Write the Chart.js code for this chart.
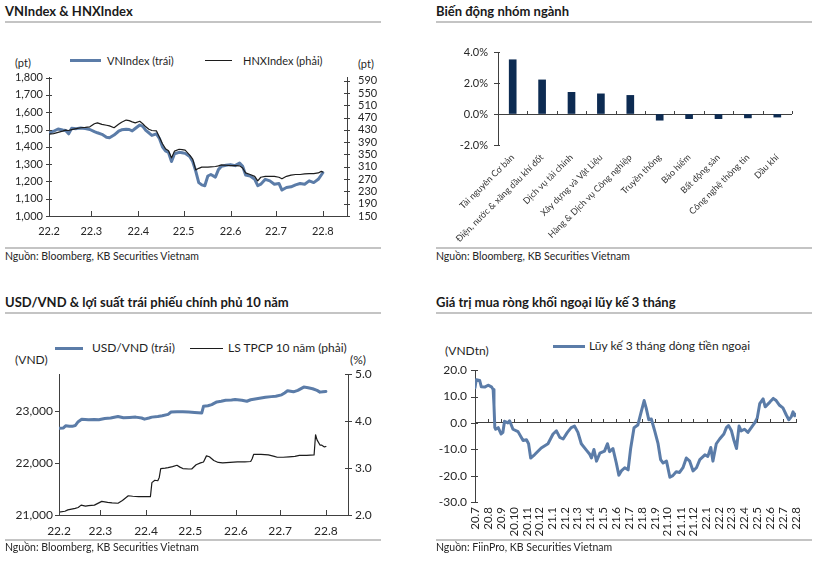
<!DOCTYPE html>
<html><head><meta charset="utf-8">
<script src="https://cdn.jsdelivr.net/npm/chart.js@4.4.1/dist/chart.umd.min.js"></script>
<style>
html,body{margin:0;padding:0;background:#fff;}
#page{position:relative;width:817px;height:561px;overflow:hidden;font-family:Lato,'Open Sans',sans-serif;color:#1f1f1f;}
.abs{position:absolute;white-space:nowrap;}
.title{font-weight:700;font-size:13px;line-height:18px;color:#1a1a1a;}
.rule{position:absolute;height:2px;background:#c4c4c4;}
.src{font-size:10.5px;line-height:13px;color:#262626;}
.lg{font-size:11px;line-height:13px;color:#1f1f1f;}
.lg12{font-size:12px;line-height:14px;color:#1f1f1f;}
.sw{position:absolute;}
canvas{position:absolute;}
</style></head>
<body>
<div id="page">
  <!-- Panel 1 -->
  <div class="abs title" style="left:5px;top:2px">VNIndex &amp; HNXIndex</div>
  <div class="rule" style="left:5px;top:21px;width:376px"></div>
  <div class="sw" style="left:70px;top:59px;width:31px;height:3px;background:#5b7ca8"></div>
  <div class="abs lg" style="left:107px;top:54px">VNIndex (trái)</div>
  <div class="sw" style="left:205px;top:60px;width:27px;height:1px;background:#1c1c1c"></div>
  <div class="abs lg" style="left:243px;top:54px">HNXIndex (phải)</div>
  <div class="abs lg" style="left:15px;top:56px">(pt)</div>
  <div class="abs lg" style="left:358px;top:57px">(pt)</div>
  <canvas id="c1" width="405" height="185" style="left:0;top:60px"></canvas>
  <div class="rule" style="left:5px;top:247px;width:376px"></div>
  <div class="abs src" style="left:5px;top:250px">Nguồn: Bloomberg, KB Securities Vietnam</div>

  <!-- Panel 2 -->
  <div class="abs title" style="left:436px;top:2px">Biến động nhóm ngành</div>
  <div class="rule" style="left:436px;top:21px;width:376px"></div>
  <canvas id="c2" width="407" height="215" style="left:410px;top:30px"></canvas>
  <div class="rule" style="left:436px;top:247px;width:376px"></div>
  <div class="abs src" style="left:436px;top:250px">Nguồn: Bloomberg, KB Securities Vietnam</div>

  <!-- Panel 3 -->
  <div class="abs title" style="left:5px;top:293px">USD/VND &amp; lợi suất trái phiếu chính phủ 10 năm</div>
  <div class="rule" style="left:5px;top:312px;width:376px"></div>
  <div class="sw" style="left:55px;top:347px;width:28px;height:3px;background:#5b7ca8"></div>
  <div class="abs lg12" style="left:92px;top:341px">USD/VND (trái)</div>
  <div class="sw" style="left:190px;top:348px;width:33px;height:1px;background:#1c1c1c"></div>
  <div class="abs lg12" style="left:228px;top:341px">LS TPCP 10 năm (phải)</div>
  <div class="abs lg12" style="left:15px;top:353px">(VND)</div>
  <div class="abs lg12" style="left:350px;top:353px">(%)</div>
  <canvas id="c3" width="405" height="180" style="left:0;top:360px"></canvas>
  <div class="rule" style="left:5px;top:539px;width:376px"></div>
  <div class="abs src" style="left:5px;top:541px">Nguồn: Bloomberg, KB Securities Vietnam</div>

  <!-- Panel 4 -->
  <div class="abs title" style="left:436px;top:293px">Giá trị mua ròng khối ngoại lũy kế 3 tháng</div>
  <div class="rule" style="left:436px;top:312px;width:376px"></div>
  <div class="sw" style="left:553px;top:345px;width:32px;height:3px;background:#5b7ca8"></div>
  <div class="abs lg12" style="left:589px;top:339px">Lũy kế 3 tháng dòng tiền ngoại</div>
  <div class="abs lg12" style="left:445px;top:344px">(VNDtn)</div>
  <canvas id="c4" width="407" height="185" style="left:410px;top:355px"></canvas>
  <div class="rule" style="left:436px;top:539px;width:376px"></div>
  <div class="abs src" style="left:436px;top:541px">Nguồn: FiinPro, KB Securities Vietnam</div>
</div>
<script>
// ---------------- DATA ----------------
// Panel 1: days since 2022-02-01
const idxMonthLabels = ['22.2','22.3','22.4','22.5','22.6','22.7','22.8'];
const idxDay = [0,3,6,9,11,13,15,18,21,24,27,30,32,35,38,40,43,46,48,51,53,55,57,60,62,64,66,68,71,73,75,77,79,81,83,86,88,90,93,95,97,99,101,103,105,107,110,112,114,117,120,123,126,128,130,133,136,138,140,143,146,149,152,154,157,160,163,166,169,172,175,178,180,181];
const vnIndex = [1479,1490,1503,1497,1494,1475,1507,1505,1509,1505,
 1500,1488,1481,1472,1455,1452,1468,1490,1498,1502,
 1500,1492,1506,1526,1518,1495,1481,1466,1475,1448,
 1400,1376,1367,1315,1360,1368,1366,1362,1344,1315,
 1260,1193,1180,1175,1231,1240,1225,1268,1287,1293,
 1297,1291,1306,1287,1237,1231,1212,1175,1184,1212,
 1203,1184,1188,1150,1165,1169,1180,1188,1184,1203,
 1193,1212,1237,1250];
const hnxIndex = [416,418,422,426,429,428,431,434,437,438,
 440,450,453,448,445,443,437,448,455,462,
 460,456,453,458,450,440,432,428,427,406,
 385,369,362,339,361,367,366,364,348,335,
 300,305,309,309,309,310,311,313,316,315,
 314,314,313,306,290,285,279,264,276,279,
 279,279,276,271,279,283,285,285,287,288,
 288,290,295,293];
const vnTicks = [1000,1100,1200,1300,1400,1500,1600,1700,1800];
const hnxTicks = [150,190,230,270,310,350,390,430,470,510,550,590];

// Panel 2
const sectorNames = ['Tài nguyên Cơ bản','Điện, nước & xăng dầu khí đốt','Dịch vụ tài chính','Xây dựng và Vật Liệu','Hàng & Dịch vụ Công nghiệp','Truyền thông','Bảo hiểm','Bất động sản','Công nghệ thông tin','Dầu khí'];
const sectorChange = [3.5,2.2,1.4,1.3,1.2,-0.4,-0.3,-0.3,-0.25,-0.2];
const sectorTicks = [-2,0,2,4];

// Panel 3: days since 2022-02-01
const usdDay = [0,3,4.5,7,9,11,13,15.4,20,24,27,31,35,40,43.7,48,52,56,58,61,63,67,70,74,76,80,84,88,92,96.8,98,101,103.6,107,110,113,117,119.4,124,127.4,130,133,137,140,144,147,151,153,155,159,162,166,169,172,175,177,179,181];
const usdVnd = [22664,22670,22710,22700,22700,22715,22790,22838,22825,22830,
 22825,22850,22860,22890,22864,22870,22877,22860,22838,22860,
 22877,22890,22903,22930,22975,22981,22981,22975,22967,22955,
 23084,23095,23117,23168,23180,23200,23205,23214,23200,23181,
 23210,23226,23245,23259,23270,23278,23304,23340,23382,23362,
 23390,23453,23440,23421,23390,23356,23365,23369];
const bondDay = [0,4,6,11,13,15,18,20,24,29,33,36,40,43,47,50,54,58,62,63,65,67,68,69,72,74,77,80,82,84,88,90,93,96,98,100,102,105,108,111,116,121,126,130,131,132,137,142,146,148,152,156,160,163,168,173,174,175,177,178,180,181];
const bondYield = [2.06,2.08,2.11,2.14,2.16,2.21,2.19,2.20,2.21,2.29,
 2.27,2.26,2.25,2.31,2.41,2.40,2.39,2.39,2.39,2.69,
 2.74,2.73,2.80,2.99,3.00,3.01,3.03,3.06,3.02,2.99,
 2.98,2.98,3.07,3.11,3.13,3.26,3.24,3.16,3.12,3.11,
 3.12,3.13,3.13,3.14,3.20,3.29,3.29,3.28,3.25,3.23,
 3.23,3.24,3.25,3.27,3.27,3.28,3.71,3.60,3.49,3.49,
 3.45,3.46];
const usdTicks = [21000,22000,23000];
const bondTicks = [2,3,4,5];

// Panel 4: days since 2020-07-01
const flowMonthLabels = ['20.7','20.8','20.9','20.10','20.11','20.12','21.1','21.2','21.3','21.4','21.5','21.6','21.7','21.8','21.9','21.10','21.11','21.12','22.1','22.2','22.3','22.4','22.5','22.6','22.7','22.8'];
const flowDay = [0,3,11,15,23,31,39,43,45,47,49,55,62,66,70,78,82,90,102,114,122,127,132,141,157,173,185,193,201,209,219,228,236,244,252,264,272,276,282,288,296,307,314,319,327,335,341,347,355,363,369,377,386,394,401,406,412,418,426,434,440,446,454,462,469,477,485,493,501,509,517,525,533,545,552,559,564,572,580,590,596,601,608,614,620,626,631,639,647,655,663,669,675,683,688,699,707,714,722,730,738,744,750,754,758,760];
const flowValue = [13.3,16.4,16.1,13.7,13.6,14.3,13.7,12.7,6.7,-1.8,
 -2.4,-1.8,-4.2,-3.6,0.6,0.0,0.8,-2.4,-3.3,-6.7,
 -6.4,-7.9,-13.3,-12.1,-9.5,-7.9,-4.2,-3.0,-5.5,-6.1,
 -3.6,-1.8,-1.2,-3.6,-7.9,-10.3,-11.9,-13.3,-10.1,-14.5,
 -11.5,-10.7,-7.9,-10.9,-9.7,-15.2,-19.8,-18.2,-17.0,-17.8,
 -9.7,-1.8,-0.8,4.2,8.5,5.5,1.2,1.5,-3.0,-7.9,
 -13.9,-15.2,-14.5,-20.6,-20.0,-18.5,-18.8,-17.0,-13.3,-14.5,
 -18.2,-17.0,-13.9,-12.1,-12.7,-9.3,-14.5,-7.9,-6.1,-4.2,
 -1.8,-1.0,-3.0,-6.7,-9.7,-1.2,-3.0,-2.4,-3.6,-1.8,
 0.0,1.8,7.3,9.1,6.1,7.9,9.3,8.5,6.7,5.7,
 3.0,1.2,2.4,4.2,2.7,3.3];
const flowTicks = [-30,-20,-10,0,10,20];

// ---------------- HELPERS ----------------
const BLUE = '#5b7ca8', BLACK = '#1c1c1c', NAVY = '#0d2b52', AXIS = '#404040', TXT = '#262626';
const DAY = 86400000;
function monthDay(label, y0, m0){ const p = label.split('.').map(Number); return (Date.UTC(2000+p[0], p[1]-1, 1) - Date.UTC(y0, m0-1, 1)) / DAY; }
const idxMonthDays = idxMonthLabels.map(l => monthDay(l, 2022, 2));
const flowMonthDays = flowMonthLabels.map(l => monthDay(l, 2020, 7));
function labeler(days, labels){ return v => { const i = days.indexOf(v); return i >= 0 ? labels[i] : ''; }; }
function pts(xs, ys){ return xs.map((x, i) => ({x: x, y: ys[i]})); }
function setTicks(arr){ return s => { s.ticks = arr.map(v => ({value: v})); }; }
function fixW(w){ return s => { s.width = w; }; }
function fixH(h){ return s => { s.height = h; }; }
const zeroOnly = c => (c.tick && c.tick.value === 0) ? AXIS : 'rgba(0,0,0,0)';

Chart.defaults.font.family = "Lato, 'Open Sans', sans-serif";
Chart.defaults.color = TXT;

function makeTickMarks(marks) {
  return {
    id: 'tickMarks',
    afterDraw(chart) {
      const ctx = chart.ctx, a = chart.chartArea;
      ctx.save();
      ctx.lineWidth = 1;
      ctx.strokeStyle = AXIS;
      marks.forEach(m => {
        const s = chart.scales[m.scale];
        const vals = m.values ? m.values : s.ticks.map(t => t.value);
        let base;
        if (m.at === 'left') base = a.left;
        else if (m.at === 'right') base = a.right;
        else if (m.at === 'bottom') base = a.bottom;
        else base = chart.scales[m.at.scale].getPixelForValue(m.at.value);
        base = Math.round(base);
        ctx.beginPath();
        vals.forEach(v => {
          const p = Math.round(s.getPixelForValue(v)) + 0.5;
          if (s.isHorizontal()) { ctx.moveTo(p, base - m.a); ctx.lineTo(p, base + m.b); }
          else { ctx.moveTo(base - m.a, p); ctx.lineTo(base + m.b, p); }
        });
        ctx.stroke();
      });
      ctx.restore();
    }
  };
}

const common = {
  responsive: false, animation: false, devicePixelRatio: 1,
  elements: { point: { radius: 0 }, line: { tension: 0, borderJoinStyle: 'round', borderCapStyle: 'round' } },
};
const noPlug = { legend: { display: false }, tooltip: { enabled: false } };

// ---------------- PANEL 1 ----------------
new Chart(document.getElementById('c1'), {
  type: 'line',
  data: { datasets: [
    { label: 'HNXIndex (phải)', data: pts(idxDay, hnxIndex), yAxisID: 'y1', borderColor: BLACK, borderWidth: 1.2, order: 0 },
    { label: 'VNIndex (trái)', data: pts(idxDay, vnIndex), yAxisID: 'y', borderColor: BLUE, borderWidth: 3, order: 1 }
  ]},
  options: Object.assign({}, common, {
    layout: { padding: { top: 14, left: 0, right: 0, bottom: 0 } },
    plugins: noPlug,
    scales: {
      x: { type: 'linear', min: 0, max: 197, afterBuildTicks: setTicks(idxMonthDays), afterFit: fixH(29),
           grid: { display: false, drawTicks: false }, border: { color: AXIS },
           ticks: { padding: 9, maxRotation: 0, autoSkip: false, callback: labeler(idxMonthDays, idxMonthLabels), font: { size: 11 } } },
      y: { position: 'left', min: 1000, max: 1800, afterBuildTicks: setTicks(vnTicks), afterFit: fixW(49),
           grid: { display: false, drawTicks: false }, border: { color: AXIS },
           ticks: { padding: 6, autoSkip: false, callback: v => v.toLocaleString('en-US'), font: { size: 11 } } },
      y1: { position: 'right', min: 150, max: 600, afterBuildTicks: setTicks(hnxTicks), afterFit: fixW(58),
           grid: { display: false, drawTicks: false }, border: { color: AXIS },
           ticks: { padding: 11, autoSkip: false, callback: v => String(v), font: { size: 11 } } }
    }
  }),
  plugins: [makeTickMarks([
    { scale: 'y', at: 'left', a: 3, b: 3 },
    { scale: 'y1', at: 'right', a: 3, b: 3 },
    { scale: 'x', at: 'bottom', a: 5, b: 0 }
  ])]
});

// ---------------- PANEL 2 ----------------
new Chart(document.getElementById('c2'), {
  type: 'bar',
  data: { labels: sectorNames, datasets: [{ data: sectorChange, backgroundColor: NAVY, barThickness: 7 }] },
  options: Object.assign({}, common, {
    layout: { padding: { top: 22, left: 0, right: 25, bottom: 0 } },
    plugins: noPlug,
    scales: {
      x: { afterFit: fixH(100), grid: { display: false, drawTicks: false }, border: { display: false },
           ticks: { minRotation: 45, maxRotation: 45, autoSkip: false, padding: 7, font: { size: 9 }, color: '#333' } },
      y: { min: -2, max: 4, afterBuildTicks: setTicks(sectorTicks), afterFit: fixW(88),
           grid: { drawTicks: false, color: zeroOnly }, border: { color: AXIS },
           ticks: { padding: 10, autoSkip: false, callback: v => v.toFixed(1) + '%', font: { size: 11 } } }
    }
  }),
  plugins: [makeTickMarks([
    { scale: 'y', at: 'left', a: 4, b: 2 },
    { scale: 'x', at: { scale: 'y', value: 0 }, a: 3, b: 0, values: sectorNames.map((n, i) => i + 0.5) }
  ])]
});

// ---------------- PANEL 3 ----------------
new Chart(document.getElementById('c3'), {
  type: 'line',
  data: { datasets: [
    { label: 'LS TPCP 10 năm (phải)', data: pts(bondDay, bondYield), yAxisID: 'y1', borderColor: BLACK, borderWidth: 1.2, order: 0 },
    { label: 'USD/VND (trái)', data: pts(usdDay, usdVnd), yAxisID: 'y', borderColor: BLUE, borderWidth: 3, order: 1 }
  ]},
  options: Object.assign({}, common, {
    layout: { padding: { top: 14, left: 0, right: 0, bottom: 0 } },
    plugins: noPlug,
    scales: {
      x: { type: 'linear', min: 0, max: 196, afterBuildTicks: setTicks(idxMonthDays), afterFit: fixH(25),
           grid: { display: false, drawTicks: false }, border: { color: AXIS },
           ticks: { padding: 9, maxRotation: 0, autoSkip: false, callback: labeler(idxMonthDays, idxMonthLabels), font: { size: 12 } } },
      y: { position: 'left', min: 21000, max: 23700, afterBuildTicks: setTicks(usdTicks), afterFit: fixW(59),
           grid: { display: false, drawTicks: false }, border: { color: AXIS },
           ticks: { padding: 6, autoSkip: false, callback: v => v.toLocaleString('en-US'), font: { size: 12 } } },
      y1: { position: 'right', min: 2, max: 5, afterBuildTicks: setTicks(bondTicks), afterFit: fixW(57),
           grid: { display: false, drawTicks: false }, border: { color: AXIS },
           ticks: { padding: 7, autoSkip: false, callback: v => v.toFixed(1), font: { size: 12 } } }
    }
  }),
  plugins: [makeTickMarks([
    { scale: 'y', at: 'left', a: 4, b: 0 },
    { scale: 'y1', at: 'right', a: 3, b: 4 },
    { scale: 'x', at: 'bottom', a: 5, b: 0 }
  ])]
});

// ---------------- PANEL 4 ----------------
new Chart(document.getElementById('c4'), {
  type: 'line',
  data: { datasets: [
    { label: 'Lũy kế 3 tháng dòng tiền ngoại', data: pts(flowDay, flowValue), borderColor: BLUE, borderWidth: 3 }
  ]},
  options: Object.assign({}, common, {
    layout: { padding: { top: 10, left: 0, right: 21, bottom: 0 } },
    plugins: noPlug,
    scales: {
      x: { type: 'linear', min: 0, max: 761, afterBuildTicks: setTicks(flowMonthDays), afterFit: fixH(38),
           grid: { display: false, drawTicks: false }, border: { display: false },
           ticks: { padding: 5, minRotation: 90, maxRotation: 90, autoSkip: false, callback: labeler(flowMonthDays, flowMonthLabels), font: { size: 11.5 } } },
      y: { min: -30, max: 20, afterBuildTicks: setTicks(flowTicks), afterFit: fixW(65),
           grid: { drawTicks: false, color: zeroOnly }, border: { color: AXIS },
           ticks: { padding: 8, autoSkip: false, callback: v => v.toFixed(1), font: { size: 12 } } }
    }
  }),
  plugins: [makeTickMarks([
    { scale: 'y', at: 'left', a: 4, b: 3 },
    { scale: 'x', at: { scale: 'y', value: 0 }, a: 4, b: 0 }
  ])]
});
</script>
</body></html>
